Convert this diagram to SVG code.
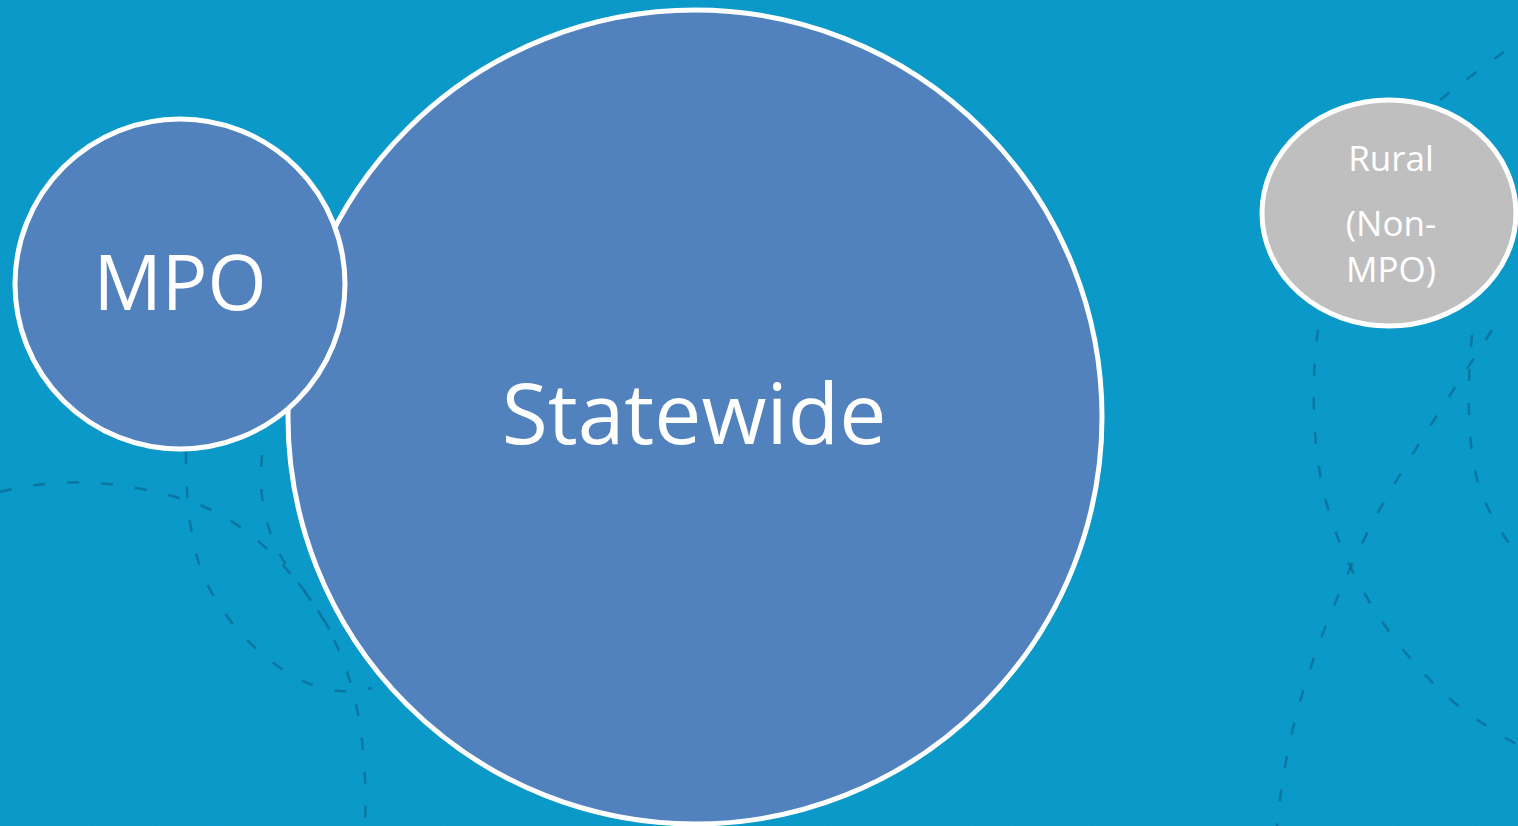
<svg xmlns="http://www.w3.org/2000/svg" width="1518" height="826" viewBox="0 0 1518 826">
<style>
.bgline{fill:none;stroke:#0a5f88;stroke-width:2.5;stroke-dasharray:12 22;opacity:0.6}
.node{stroke:#ffffff;stroke-width:5}
.blue{fill:#5182bd}
.grey{fill:#bfbfbf}
.lbl{font-family:"Open Sans","Noto Sans","Liberation Sans",sans-serif;fill:#ffffff;text-anchor:middle}
</style>
<defs>
<filter id="tex" x="0" y="0" width="100%" height="100%">
<feTurbulence type="fractalNoise" baseFrequency="0.9" numOctaves="2" seed="3" result="n"/>
<feColorMatrix type="matrix" values="0 0 0 0 0  0 0 0 0 0.2  0 0 0 0 0.3  0 0 0 0.12 0" in="n"/>
</filter>
</defs>
<g id="background">
<rect width="1518" height="826" fill="#0b9bcb"/>
<rect width="1518" height="826" filter="url(#tex)"/>
<path class="bgline" d="M0,492 C60,476 130,480 200,505 C260,530 300,580 330,630"/>
<path class="bgline" d="M186,452 C186,500 190,545 205,580 C230,630 270,670 320,688 C345,694 360,690 372,688"/>
<path class="bgline" d="M262,455 C258,500 265,540 300,585 C335,630 355,680 362,740 C366,780 366,805 365,826"/>
<path class="bgline" d="M1318,330 C1310,390 1312,470 1335,530 C1360,600 1410,670 1470,715 C1490,728 1505,738 1518,745"/>
<path class="bgline" d="M1492,330 C1460,380 1420,440 1385,500 C1345,570 1310,660 1295,720 C1285,760 1280,795 1277,826"/>
<path class="bgline" d="M1472,335 C1466,400 1468,450 1480,490 C1490,515 1500,530 1510,545"/>
<path class="bgline" d="M1440,100 C1465,80 1490,62 1518,42"/>
</g>
<g id="statewide">
<circle class="node blue" cx="695" cy="417" r="407"/>
<text class="lbl" x="694" y="444" font-size="84">Statewide</text>
</g>
<g id="mpo">
<circle class="node blue" cx="180" cy="284" r="165"/>
<text class="lbl" x="180" y="310" font-size="76">MPO</text>
</g>
<g id="rural">
<ellipse class="node grey" cx="1389" cy="213" rx="127" ry="113"/>
<text class="lbl" x="1391" y="171" font-size="35">Rural</text>
<text class="lbl" x="1391" y="236" font-size="35">(Non-</text>
<text class="lbl" x="1391" y="282" font-size="35">MPO)</text>
</g>
<g id="connectors"/>
</svg>
